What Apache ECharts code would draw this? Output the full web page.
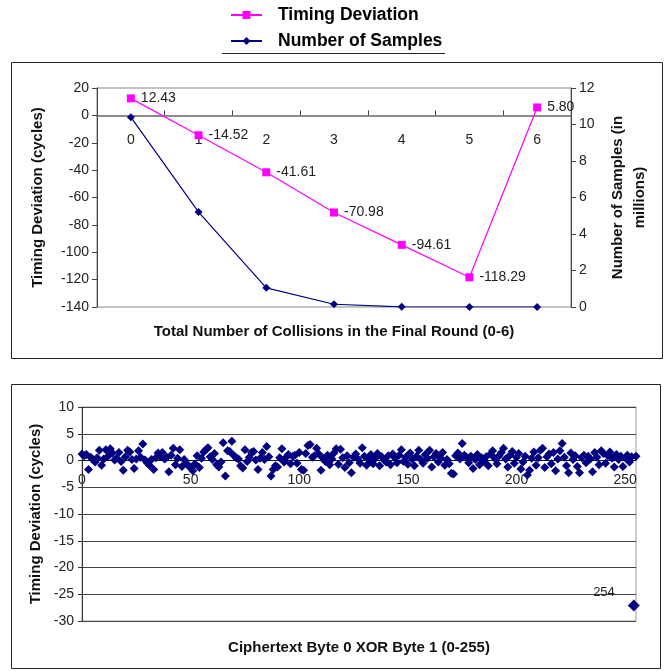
<!DOCTYPE html>
<html>
<head>
<meta charset="utf-8">
<title>Timing Deviation</title>
<script src="https://cdn.jsdelivr.net/npm/echarts@6/dist/echarts.min.js"></script>
<style>
html, body { margin: 0; padding: 0; background: #fff; }
#main { width: 669px; height: 671px; }
</style>
</head>
<body>
<div id="main"></div>
<script>
// top chart
var collisions = ['0', '1', '2', '3', '4', '5', '6'];
var timingDeviation = [12.43, -14.52, -41.61, -70.98, -94.61, -118.29, 5.80];
var samplesMillions = [10.4, 5.2, 1.05, 0.15, 0.01, 0.0, 0.0];

// bottom chart: one value per byte 0..255
var byteDeviation = [
    1.2, 0.9, 1.1, -1.7, 0.6, 0.2, -0.3, 0.5, 1.9, -0.9, 0.3, 2.0, 0.8, 2.2, 1.4, 0.1,
    0.4, 1.5, -0.2, -1.8, 0.7, 1.9, 1.6, 0.2, -1.5, 0.3, 1.8, 0.6, 3.1, 0.1, -0.4, -0.9,
    0.2, -1.7, 0.5, 1.4, 0.8, 1.5, 0.3, 0.6, -2.1, 1.0, 2.3, -0.8, 0.4, 2.0, -1.1, 0.2,
    -0.5, -1.0, -1.4, -1.9, -0.6, 0.9, -1.3, 0.4, 1.6, 2.0, 2.4, 0.7, 0.2, 1.3, -0.8, -1.2,
    -0.3, 3.3, -2.9, 1.8, 1.7, 3.6, 0.9, 0.5, 0.3, -1.0, -1.4, 2.0, -0.2, 0.6, 1.5, 1.7,
    0.1, -1.7, 0.4, 1.5, 0.2, 2.6, 0.7, -2.9, -1.7, -1.0, -1.2, 0.5, 2.2, -0.3, 0.6, 1.1,
    -0.6, 0.8, 1.0, -0.5, 1.5, -1.7, -1.8, 1.3, 2.8, 3.0, 0.6, 0.9, 2.3, 1.2, -1.8, 0.4,
    -0.2, 1.0, -0.8, 0.3, 1.4, 2.2, -0.7, 2.1, 0.5, -1.3, 0.9, -0.4, -2.3, 0.6, 1.2, 0.3,
    -0.5, 2.4, 0.8, -0.9, 0.2, 1.1, -0.6, 0.4, 1.3, -1.0, 0.7, 0.1, -0.3, 0.9, -0.8, 1.2,
    0.5, -0.4, 1.0, 2.0, -0.2, 0.6, -0.7, 1.4, 0.3, -1.0, 0.8, 1.9, 0.2, -0.5, 1.1, 0.4,
    1.9, -1.2, 0.7, 1.3, -0.3, 0.5, 1.5, -0.9, 0.2, -0.6, -2.4, -2.5, 0.9, 1.4, 0.3, 3.2,
    1.0, 0.6, -0.4, 0.8, -1.5, 0.2, 1.1, -0.8, 0.5, -0.2, 0.7, -1.0, 1.2, 1.8, 0.4, -0.6,
    0.9, 1.5, 2.3, 0.3, -1.2, 1.0, 1.7, -0.5, 0.6, 1.3, -1.6, -0.3, 0.8, -2.7, -1.8, 0.4,
    1.6, -0.9, 0.5, 1.9, 2.3, -1.3, 0.7, 1.2, -0.6, 1.5, -1.9, 0.3, 1.8, 3.2, 0.6, -1.0,
    -2.3, 1.4, 0.2, 0.9, -1.1, -2.3, 0.5, 1.0, -0.4, 0.8, 0.3, -2.1, 1.5, 0.6, -0.8, 1.8,
    1.3, -0.5, 0.9, 1.6, 0.4, -1.2, 1.1, 0.2, 0.8, -1.1, 0.5, 1.0, -0.3, 0.7, -27.1, 0.8
];
var labelledByte = 254;

var font = '"Liberation Sans", Arial, sans-serif';

var scatterData = byteDeviation.map(function (v, i) {
    if (i === labelledByte) {
        return {
            value: [i, v],
            symbolSize: 12,
            label: {
                show: true,
                position: 'left',
                offset: [-8, -13],
                formatter: String(i),
                fontFamily: font,
                fontSize: 13,
                color: '#222'
            }
        };
    }
    return [i, v];
});

var myChart = echarts.init(document.getElementById('main'));
var option = {
    animation: false,
    backgroundColor: '#fff',
    textStyle: { fontFamily: font },
    legend: {
        data: ['Timing Deviation', 'Number of Samples'],
        orient: 'vertical',
        left: 225,
        top: 1,
        itemWidth: 31,
        itemHeight: 10,
        itemGap: 8,
        textStyle: { fontFamily: font, fontSize: 17.5, fontWeight: 'bold', color: '#000', padding: [0, 0, 0, 11] }
    },
    graphic: [
        { type: 'line', shape: { x1: 222, y1: 53.5, x2: 445, y2: 53.5 }, style: { stroke: '#222', lineWidth: 1 } },
        { type: 'rect', shape: { x: 11.5, y: 62.5, width: 651, height: 296 }, style: { fill: null, stroke: '#222', lineWidth: 1 } },
        { type: 'rect', shape: { x: 11.5, y: 384.5, width: 649, height: 284 }, style: { fill: null, stroke: '#222', lineWidth: 1 } }
    ],
    grid: [
        { left: 97, right: 98, top: 88, height: 219, show: true, borderColor: '#888', borderWidth: 1, outerBoundsMode: 'none' },
        { left: 82, right: 33, top: 407, height: 214, show: true, borderColor: '#999', borderWidth: 1, outerBoundsMode: 'none' }
    ],
    xAxis: [
        {
            type: 'category',
            gridIndex: 0,
            data: collisions,
            boundaryGap: true,
            name: 'Total Number of Collisions in the Final Round (0-6)',
            nameLocation: 'middle',
            nameGap: 17,
            nameTextStyle: { fontFamily: font, fontSize: 15, fontWeight: 'bold', color: '#111' },
            axisLine: { onZero: true, onZeroAxisIndex: 0, lineStyle: { color: '#666', width: 1.5 } },
            axisTick: { show: true, inside: true, length: 5, lineStyle: { color: '#444' } },
            axisLabel: { fontSize: 14, color: '#222', margin: -174 },
            splitLine: { show: false }
        },
        {
            type: 'value',
            gridIndex: 1,
            min: 0,
            max: 255,
            interval: 50,
            name: 'Ciphertext Byte 0 XOR Byte 1 (0-255)',
            nameLocation: 'middle',
            nameGap: 19,
            nameTextStyle: { fontFamily: font, fontSize: 15, fontWeight: 'bold', color: '#111' },
            axisLine: { onZero: true, lineStyle: { color: '#111', width: 1 } },
            axisTick: { show: false },
            axisLabel: { fontSize: 14, color: '#222', margin: -148, showMaxLabel: false },
            splitLine: { show: false }
        }
    ],
    yAxis: [
        {
            type: 'value',
            gridIndex: 0,
            min: -140,
            max: 20,
            interval: 20,
            name: 'Timing Deviation (cycles)',
            nameLocation: 'middle',
            nameGap: 52,
            nameTextStyle: { fontFamily: font, fontSize: 15, fontWeight: 'bold', color: '#111' },
            axisLine: { show: true, lineStyle: { color: '#444' } },
            axisTick: { show: true, length: 5, lineStyle: { color: '#444' } },
            axisLabel: { fontSize: 14, color: '#222', margin: 8 },
            splitLine: { show: false }
        },
        {
            type: 'value',
            gridIndex: 0,
            position: 'right',
            min: 0,
            max: 12,
            interval: 2,
            name: 'Number of Samples (in\nmillions)',
            nameLocation: 'middle',
            nameRotate: 90,
            nameGap: 36,
            nameTextStyle: { fontFamily: font, fontSize: 15, fontWeight: 'bold', color: '#111', lineHeight: 22, align: 'center' },
            axisLine: { show: true, lineStyle: { color: '#444' } },
            axisTick: { show: true, length: 5, lineStyle: { color: '#444' } },
            axisLabel: { fontSize: 14, color: '#222', margin: 8 },
            splitLine: { show: false }
        },
        {
            type: 'value',
            gridIndex: 1,
            min: -30,
            max: 10,
            interval: 5,
            name: 'Timing Deviation (cycles)',
            nameLocation: 'middle',
            nameGap: 39,
            nameTextStyle: { fontFamily: font, fontSize: 15, fontWeight: 'bold', color: '#111' },
            axisLine: { show: true, lineStyle: { color: '#333' } },
            axisTick: { show: true, length: 4, lineStyle: { color: '#333' } },
            axisLabel: { fontSize: 14, color: '#222', margin: 8 },
            splitLine: { show: true, lineStyle: { color: '#444', width: 1 } }
        }
    ],
    series: [
        {
            name: 'Number of Samples',
            type: 'line',
            xAxisIndex: 0,
            yAxisIndex: 1,
            data: samplesMillions,
            symbol: 'diamond',
            symbolSize: 8,
            color: '#000080',
            lineStyle: { width: 1.2, color: '#000080' }
        },
        {
            name: 'Timing Deviation',
            type: 'line',
            xAxisIndex: 0,
            yAxisIndex: 0,
            data: timingDeviation,
            symbol: 'rect',
            symbolSize: 8,
            color: '#ff00ff',
            lineStyle: { width: 1.2, color: '#ff00ff' },
            label: {
                show: true,
                position: 'right',
                distance: 6,
                fontSize: 14,
                color: '#222',
                formatter: function (p) { return p.value.toFixed(2); }
            }
        },
        {
            name: 'Byte Deviation',
            type: 'scatter',
            xAxisIndex: 1,
            yAxisIndex: 2,
            data: scatterData,
            symbol: 'diamond',
            symbolSize: 9,
            itemStyle: { color: '#000080', opacity: 1 }
        }
    ]
};
myChart.setOption(option);
</script>
</body>
</html>
